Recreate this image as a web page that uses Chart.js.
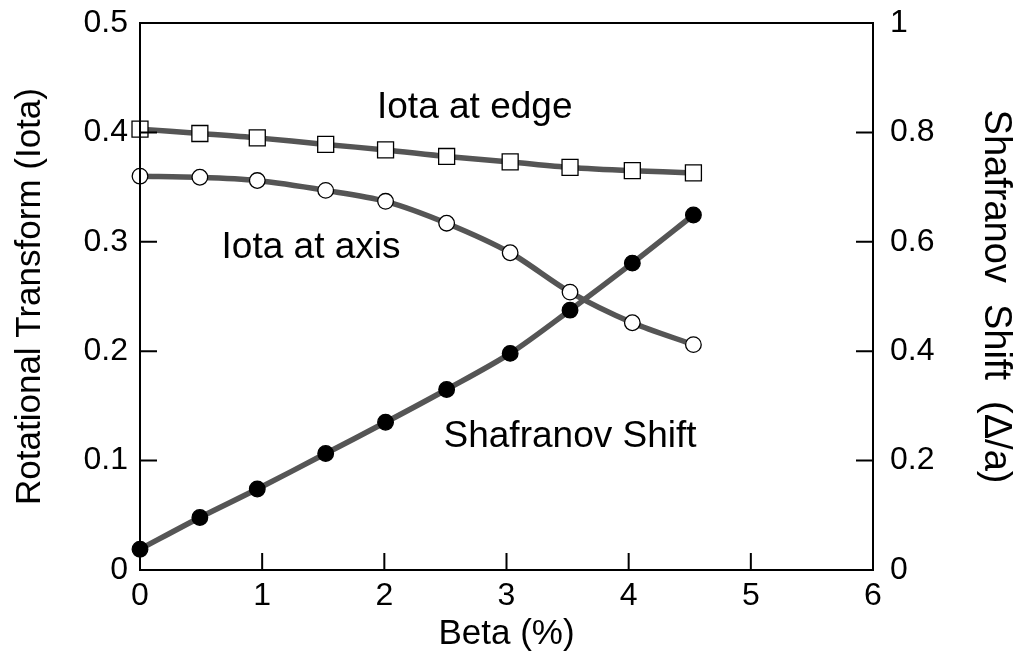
<!DOCTYPE html>
<html>
<head>
<meta charset="utf-8">
<script src="https://cdn.jsdelivr.net/npm/chart.js@4"></script>
<style>
  html, body { margin: 0; padding: 0; background: #fff; }
  #wrap { width: 1019px; height: 659px; }
</style>
</head>
<body>
<div id="wrap"><canvas id="chart" width="1019" height="659"></canvas></div>
<script>
// values
const beta = [0, 0.49, 0.96, 1.52, 2.01, 2.51, 3.03, 3.52, 4.03, 4.53];
const iotaEdge = [0.403, 0.399, 0.395, 0.389, 0.384, 0.378, 0.373, 0.368, 0.365, 0.363];
const iotaAxis = [0.360, 0.359, 0.356, 0.347, 0.337, 0.317, 0.290, 0.254, 0.226, 0.206];
const shafranov = [0.038, 0.096, 0.148, 0.213, 0.270, 0.330, 0.396, 0.475, 0.561, 0.649];

const xTicks = [0, 1, 2, 3, 4, 5, 6];
const leftTicks = [0, 0.1, 0.2, 0.3, 0.4, 0.5];
const rightTicks = [0, 0.2, 0.4, 0.6, 0.8, 1];

// text labels placed in data coordinates: [text, x, y(left axis)]
const notes = [
  ['Iota at edge', 2.74, 0.4225],
  ['Iota at axis', 1.40, 0.2945],
  ['Shafranov Shift', 3.52, 0.1215]
];

const FONT = '"Liberation Sans", Arial, Helvetica, sans-serif';
const LINE = '#555555';

const pts = (ys) => beta.map((b, i) => ({ x: b, y: ys[i] }));

// frame, inner tick marks and text notes
const framePlugin = {
  id: 'frame',
  afterDatasetsDraw(chart) {
    const { ctx, chartArea: a, scales } = chart;
    ctx.save();
    ctx.strokeStyle = '#000';
    ctx.lineWidth = 2;
    ctx.strokeRect(a.left, a.top, a.right - a.left, a.bottom - a.top);

    const len = 17;
    ctx.beginPath();
    xTicks.forEach(v => {
      const px = scales.x.getPixelForValue(v);
      ctx.moveTo(px, a.bottom);
      ctx.lineTo(px, a.bottom - len);
    });
    leftTicks.forEach(v => {
      const py = scales.y.getPixelForValue(v);
      ctx.moveTo(a.left, py);
      ctx.lineTo(a.left + len, py);
    });
    rightTicks.forEach(v => {
      const py = scales.y2.getPixelForValue(v);
      ctx.moveTo(a.right, py);
      ctx.lineTo(a.right - len, py);
    });
    ctx.stroke();

    ctx.fillStyle = '#000';
    ctx.font = '37px ' + FONT;
    ctx.textAlign = 'center';
    ctx.textBaseline = 'middle';
    notes.forEach(([t, x, y]) => {
      ctx.fillText(t, scales.x.getPixelForValue(x), scales.y.getPixelForValue(y));
    });
    ctx.restore();
  }
};

const lineStyle = {
  borderColor: LINE,
  borderWidth: 5.5,
  tension: 0.3,
  pointBorderColor: '#000',
  pointBorderWidth: 1.3,
  clip: false
};

const fitV = (w) => (s) => { s.width = w; s.paddingTop = 0; s.paddingBottom = 0; };

new Chart(document.getElementById('chart').getContext('2d'), {
  type: 'line',
  data: {
    datasets: [
      Object.assign({
        label: 'Iota at edge',
        data: pts(iotaEdge),
        yAxisID: 'y',
        pointStyle: 'rect',
        pointRadius: 11.3,
        pointBackgroundColor: '#fff'
      }, lineStyle),
      Object.assign({
        label: 'Iota at axis',
        data: pts(iotaAxis),
        yAxisID: 'y',
        pointStyle: 'circle',
        pointRadius: 7.8,
        pointBackgroundColor: '#fff'
      }, lineStyle),
      Object.assign({
        label: 'Shafranov Shift',
        data: pts(shafranov),
        yAxisID: 'y2',
        pointStyle: 'circle',
        pointRadius: 7.8,
        pointBackgroundColor: '#000'
      }, lineStyle)
    ]
  },
  options: {
    responsive: false,
    animation: false,
    layout: { padding: { top: 23, left: 0, right: 0, bottom: 0 } },
    plugins: {
      legend: { display: false },
      tooltip: { enabled: false }
    },
    scales: {
      x: {
        type: 'linear',
        position: 'bottom',
        min: 0,
        max: 6,
        afterFit: (s) => { s.height = 89; s.paddingLeft = 0; s.paddingRight = 0; },
        afterBuildTicks: (s) => { s.ticks = xTicks.map(v => ({ value: v })); },
        grid: { display: false, drawTicks: false },
        border: { display: false },
        ticks: { color: '#000', padding: 7, font: { family: FONT, size: 32 } },
        title: {
          display: true,
          text: 'Beta (%)',
          color: '#000',
          font: { family: FONT, size: 35 },
          padding: { top: 4, bottom: 4 }
        }
      },
      y: {
        type: 'linear',
        position: 'left',
        min: 0,
        max: 0.5,
        afterFit: fitV(140),
        afterBuildTicks: (s) => { s.ticks = leftTicks.map(v => ({ value: v })); },
        grid: { display: false, drawTicks: false },
        border: { display: false },
        ticks: {
          color: '#000',
          padding: 12,
          font: { family: FONT, size: 32 },
          callback: (v) => v === 0 ? '0' : v.toFixed(1)
        },
        title: {
          display: true,
          text: 'Rotational Transform (Iota)',
          color: '#000',
          font: { family: FONT, size: 35 },
          padding: { top: 9, bottom: 0 }
        }
      },
      y2: {
        type: 'linear',
        position: 'right',
        min: 0,
        max: 1,
        afterFit: fitV(146),
        afterBuildTicks: (s) => { s.ticks = rightTicks.map(v => ({ value: v })); },
        grid: { display: false, drawTicks: false },
        border: { display: false },
        ticks: {
          color: '#000',
          padding: 17,
          font: { family: FONT, size: 32 },
          callback: (v) => (v === 0 || v === 1) ? String(v) : v.toFixed(1)
        },
        title: {
          display: true,
          text: 'Shafranov  Shift  (\u0394/a)',
          color: '#000',
          font: { family: FONT, size: 38 },
          padding: { top: 1, bottom: 0 }
        }
      }
    }
  },
  plugins: [framePlugin]
});
</script>
</body>
</html>
